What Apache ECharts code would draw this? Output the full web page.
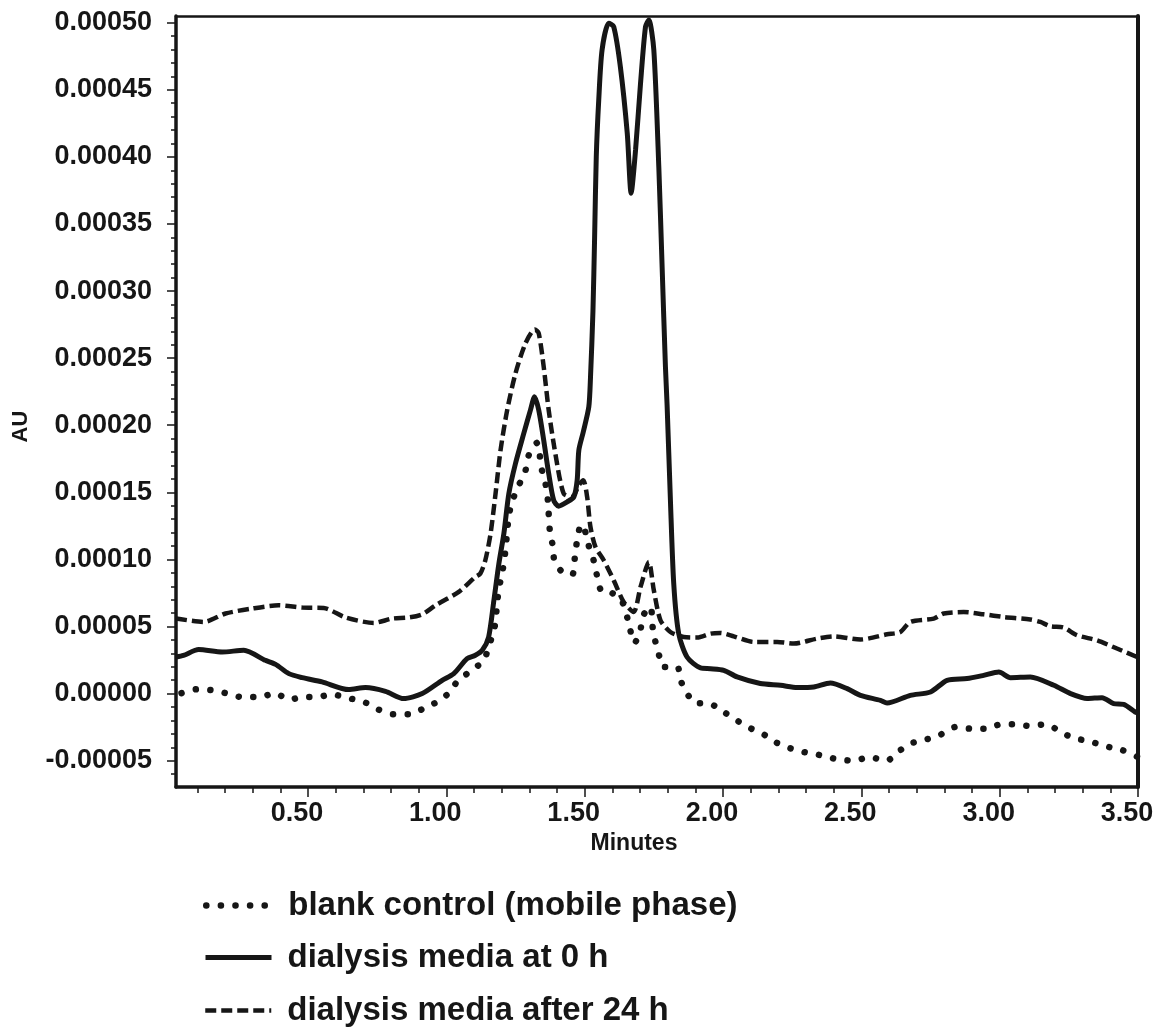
<!DOCTYPE html>
<html>
<head>
<meta charset="utf-8">
<script src="https://cdn.jsdelivr.net/npm/echarts@6/dist/echarts.min.js"></script>
<style>
  html, body { margin: 0; padding: 0; background: #fff; }
  #chart { width: 1153px; height: 1030px; }
</style>
</head>
<body>
<div id="chart"></div>
<script>
// AU values below are in units of 1e-5 AU
var AU_UNIT = 1e-5;

var blankX = [0.043, 0.096, 0.157, 0.202, 0.259, 0.331, 0.378, 0.436, 0.479, 0.537, 0.582, 0.650, 0.708, 0.750, 0.808, 0.870, 0.916, 0.971, 1.013, 1.041, 1.097, 1.135, 1.157, 1.175, 1.186, 1.196, 1.208, 1.214, 1.220, 1.226, 1.238, 1.256, 1.284, 1.298, 1.328, 1.344, 1.358, 1.367, 1.374, 1.385, 1.391, 1.419, 1.455, 1.466, 1.480, 1.492, 1.515, 1.533, 1.547, 1.561, 1.599, 1.636, 1.656, 1.665, 1.680, 1.700, 1.712, 1.738, 1.746, 1.756, 1.770, 1.784, 1.836, 1.843, 1.867, 1.900, 1.952, 2.009, 2.053, 2.102, 2.153, 2.196, 2.247, 2.302, 2.355, 2.415, 2.476, 2.527, 2.593, 2.629, 2.677, 2.732, 2.782, 2.840, 2.892, 2.955, 3.003, 3.059, 3.108, 3.165, 3.217, 3.265, 3.323, 3.378, 3.439, 3.500];
var blankY = [0.04, 0.32, 0.25, 0.04, -0.25, -0.25, 0.04, -0.45, -0.25, -0.25, -0.05, -0.35, -0.67, -1.15, -1.54, -1.54, -1.12, -0.57, 0.12, 0.94, 1.81, 2.48, 3.73, 5.00, 7.20, 8.45, 9.69, 10.81, 12.05, 13.30, 14.29, 15.29, 16.45, 17.77, 18.69, 16.78, 15.70, 14.41, 12.18, 10.98, 9.89, 9.07, 8.87, 10.50, 12.20, 12.60, 11.00, 9.89, 8.58, 7.63, 7.50, 6.83, 5.52, 4.72, 3.77, 4.60, 5.84, 6.46, 4.92, 3.85, 2.78, 1.98, 1.98, 1.19, 0.12, -0.70, -0.75, -1.45, -2.04, -2.61, -3.11, -3.68, -4.10, -4.40, -4.60, -4.90, -5.00, -4.73, -5.00, -4.40, -3.73, -3.43, -3.11, -2.49, -2.61, -2.61, -2.29, -2.29, -2.41, -2.29, -2.79, -3.31, -3.53, -3.91, -4.18, -4.73];

var media0X = [0.023, 0.050, 0.105, 0.190, 0.268, 0.346, 0.383, 0.431, 0.479, 0.551, 0.647, 0.708, 0.780, 0.846, 0.913, 0.985, 1.027, 1.075, 1.105, 1.130, 1.153, 1.172, 1.190, 1.208, 1.226, 1.250, 1.280, 1.304, 1.319, 1.334, 1.352, 1.370, 1.388, 1.406, 1.437, 1.461, 1.473, 1.479, 1.495, 1.515, 1.521, 1.530, 1.536, 1.542, 1.551, 1.563, 1.587, 1.605, 1.629, 1.654, 1.668, 1.684, 1.702, 1.720, 1.732, 1.750, 1.768, 1.780, 1.792, 1.798, 1.810, 1.822, 1.840, 1.870, 1.919, 1.955, 2.003, 2.051, 2.135, 2.208, 2.268, 2.328, 2.388, 2.449, 2.497, 2.569, 2.593, 2.677, 2.750, 2.810, 2.882, 2.942, 2.997, 3.039, 3.111, 3.196, 3.256, 3.316, 3.370, 3.412, 3.448, 3.490, 3.500];
var media0Y = [2.73, 2.85, 3.28, 3.10, 3.23, 2.48, 2.18, 1.49, 1.19, 0.87, 0.30, 0.45, 0.17, -0.37, 0.00, 0.99, 1.49, 2.61, 2.86, 3.23, 4.22, 6.96, 9.69, 11.93, 14.91, 17.15, 19.39, 21.13, 22.12, 21.13, 18.89, 16.41, 14.41, 13.97, 14.29, 14.66, 15.91, 18.14, 19.50, 21.37, 23.50, 28.50, 34.00, 40.00, 44.26, 47.98, 49.96, 49.71, 46.73, 41.76, 37.29, 40.51, 45.49, 49.71, 50.21, 47.98, 39.27, 31.81, 24.36, 21.50, 14.41, 8.20, 4.47, 2.73, 1.91, 1.86, 1.74, 1.24, 0.75, 0.62, 0.45, 0.49, 0.79, 0.37, -0.13, -0.50, -0.70, -0.13, 0.12, 0.99, 1.12, 1.36, 1.61, 1.19, 1.24, 0.62, 0.00, -0.37, -0.30, -0.75, -0.80, -1.37, -1.45];

var media24X = [0.023, 0.123, 0.202, 0.298, 0.394, 0.479, 0.557, 0.636, 0.738, 0.804, 0.864, 0.913, 0.961, 1.045, 1.105, 1.123, 1.141, 1.160, 1.178, 1.196, 1.220, 1.250, 1.286, 1.320, 1.334, 1.352, 1.370, 1.394, 1.424, 1.455, 1.479, 1.495, 1.509, 1.521, 1.539, 1.569, 1.605, 1.641, 1.677, 1.702, 1.732, 1.750, 1.774, 1.810, 1.858, 1.907, 1.955, 1.991, 2.039, 2.111, 2.196, 2.256, 2.340, 2.400, 2.497, 2.593, 2.641, 2.677, 2.762, 2.798, 2.870, 2.942, 3.015, 3.111, 3.147, 3.183, 3.231, 3.280, 3.352, 3.424, 3.500];
var media24Y = [5.60, 5.34, 5.97, 6.34, 6.58, 6.41, 6.38, 5.67, 5.27, 5.59, 5.67, 5.91, 6.58, 7.58, 8.70, 8.95, 9.94, 11.93, 14.91, 18.14, 21.13, 23.86, 26.10, 27.14, 26.85, 24.36, 21.13, 17.90, 14.91, 14.66, 15.53, 15.91, 14.66, 12.42, 10.93, 9.94, 8.45, 6.83, 6.08, 7.95, 9.81, 7.70, 5.47, 4.59, 4.22, 4.18, 4.47, 4.52, 4.27, 3.85, 3.85, 3.73, 4.10, 4.27, 4.03, 4.42, 4.59, 5.34, 5.59, 5.97, 6.08, 5.91, 5.71, 5.52, 5.34, 5.02, 4.92, 4.35, 3.97, 3.36, 2.70];

var xTicks = [0.5, 1.0, 1.5, 2.0, 2.5, 3.0, 3.5];
var yTicks = [-0.00005, 0, 0.00005, 0.0001, 0.00015, 0.0002, 0.00025, 0.0003, 0.00035, 0.0004, 0.00045, 0.0005];
var seriesNames = ['blank control (mobile phase)', 'dialysis media at 0 h', 'dialysis media after 24 h'];

var X_MIN = 0.023, X_MAX = 3.5;
var Y_MIN = -0.0000696, Y_MAX = 0.000505;

var xMinor = [];
for (var i = 1; i <= 35; i++) xMinor.push(i / 10);
var yMinor = [];
for (var j = -6; j <= 50; j++) yMinor.push(j * AU_UNIT);

function pairs(xs, ys) {
  return xs.map(function (x, k) { return [x, ys[k] * AU_UNIT]; });
}

var ink = '#161616';
var fontFam = '"Liberation Sans", Arial, sans-serif';

var dotStyle = { color: ink, width: 6.5, type: [0.1, 14.5], cap: 'round' };
var solidStyle = { color: ink, width: 5, type: 'solid' };
var dashStyle = { color: ink, width: 4.5, type: [11, 5] };

var chart = echarts.init(document.getElementById('chart'), null, { renderer: 'canvas' });

var legendBase = function (name, top, lineStyle) {
  return {
    data: [name],
    left: 198,
    top: top,
    orient: 'vertical',
    selectedMode: false,
    itemWidth: 66,
    itemHeight: 20,
    itemStyle: { opacity: 0 },
    lineStyle: { width: lineStyle.width, type: lineStyle.type, cap: lineStyle.cap || 'butt', color: ink },
    textStyle: {
      fontFamily: fontFam,
      fontWeight: 'bold',
      fontSize: 33,
      color: ink,
      padding: [0, 0, 0, 11]
    }
  };
};

var option = {
  animation: false,
  backgroundColor: '#fff',
  grid: { left: 176, right: 15, top: 16, bottom: 243, outerBoundsMode: 'none' },
  legend: [
    legendBase(seriesNames[0], 884, dotStyle),
    legendBase(seriesNames[1], 936, solidStyle),
    legendBase(seriesNames[2], 989, dashStyle)
  ],
  xAxis: [
    {
      type: 'value',
      min: X_MIN, max: X_MAX,
      name: 'Minutes',
      nameLocation: 'middle',
      nameGap: 40,
      nameTextStyle: { fontFamily: fontFam, fontWeight: 'bold', fontSize: 23, color: ink, padding: [0, 46, 0, 0] },
      axisLine: { show: true, onZero: false, lineStyle: { color: ink, width: 3.5 } },
      axisTick: { show: true, inside: false, length: 10, customValues: xTicks, lineStyle: { color: ink, width: 1.5 } },
      axisLabel: {
        customValues: xTicks,
        margin: 13,
        padding: [0, 22, 0, 0],
        fontFamily: fontFam, fontWeight: 'bold', fontSize: 27, color: ink,
        formatter: function (v) { return v.toFixed(2); }
      },
      splitLine: { show: false }
    },
    {
      type: 'value',
      min: X_MIN, max: X_MAX,
      position: 'bottom',
      axisLine: { show: false, onZero: false },
      axisTick: { show: true, length: 6, customValues: xMinor, lineStyle: { color: ink, width: 1.5 } },
      axisLabel: { show: false },
      splitLine: { show: false }
    },
    {
      type: 'value',
      min: X_MIN, max: X_MAX,
      position: 'top',
      axisLine: { show: true, onZero: false, lineStyle: { color: ink, width: 2.5 } },
      axisTick: { show: false },
      axisLabel: { show: false },
      splitLine: { show: false }
    }
  ],
  yAxis: [
    {
      type: 'value',
      min: Y_MIN, max: Y_MAX,
      name: 'AU',
      nameLocation: 'middle',
      nameRotate: 90,
      nameGap: 144,
      nameTextStyle: { fontFamily: fontFam, fontWeight: 'bold', fontSize: 22, color: ink, padding: [0, 50, 0, 0] },
      axisLine: { show: true, onZero: false, lineStyle: { color: ink, width: 3.5 } },
      axisTick: { show: true, length: 9, customValues: yTicks, lineStyle: { color: ink, width: 1.5 } },
      axisLabel: {
        customValues: yTicks,
        margin: 24,
        fontFamily: fontFam, fontWeight: 'bold', fontSize: 27, color: ink,
        formatter: function (v) { return v.toFixed(5); }
      },
      splitLine: { show: false }
    },
    {
      type: 'value',
      min: Y_MIN, max: Y_MAX,
      position: 'left',
      axisLine: { show: false, onZero: false },
      axisTick: { show: true, length: 5, customValues: yMinor, lineStyle: { color: ink, width: 1.5 } },
      axisLabel: { show: false },
      splitLine: { show: false }
    },
    {
      type: 'value',
      min: Y_MIN, max: Y_MAX,
      position: 'right',
      axisLine: { show: true, onZero: false, lineStyle: { color: ink, width: 4 } },
      axisTick: { show: false },
      axisLabel: { show: false },
      splitLine: { show: false }
    }
  ],
  series: [
    {
      name: seriesNames[0],
      type: 'line',
      symbol: 'none',
      smooth: 0.25,
      data: pairs(blankX, blankY),
      lineStyle: dotStyle,
      itemStyle: { color: ink }
    },
    {
      name: seriesNames[1],
      type: 'line',
      symbol: 'none',
      smooth: 0.25,
      data: pairs(media0X, media0Y),
      lineStyle: solidStyle,
      itemStyle: { color: ink }
    },
    {
      name: seriesNames[2],
      type: 'line',
      symbol: 'none',
      smooth: 0.25,
      data: pairs(media24X, media24Y),
      lineStyle: dashStyle,
      itemStyle: { color: ink }
    }
  ]
};

chart.setOption(option);
</script>
</body>
</html>
